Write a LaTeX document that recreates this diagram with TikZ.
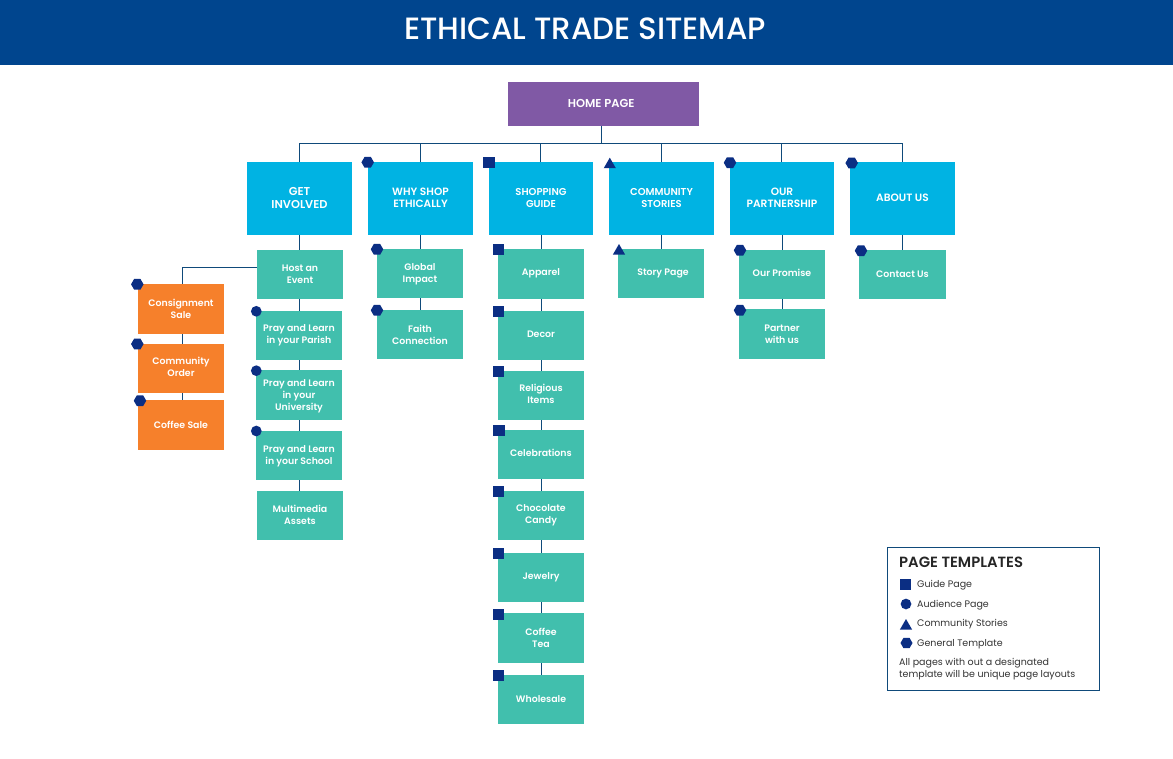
\documentclass[tikz,border=0pt]{standalone}
\usepackage{fontspec}
\setmainfont{Poppins}[BoldFont={Poppins SemiBold}]
\newfontfamily\titlefont{Poppins Medium}
\usetikzlibrary{shapes.geometric}
\definecolor{navy}{HTML}{00458E}
\definecolor{mark}{HTML}{0B2E83}
\definecolor{linec}{HTML}{0F4A7A}
\definecolor{sky}{HTML}{00B3E3}
\definecolor{teal1}{HTML}{41BFAD}
\definecolor{org}{HTML}{F6802B}
\definecolor{purp}{HTML}{8059A5}
\tikzset{
 boxb/.style={rectangle,inner sep=0pt},
 home/.style={boxb,fill=purp},
 top/.style={boxb,fill=sky},
 sub/.style={boxb,fill=teal1},
 side/.style={boxb,fill=org},
 lab/.style={inner sep=0pt,align=center,text=white,font=\fontsize{9.4}{11.8}\selectfont\bfseries},
 conn/.style={draw=linec,line width=0.9pt},
 gsq/.style={rectangle,fill=mark,minimum width=11.5pt,minimum height=11pt,inner sep=0pt},
 gci/.style={circle,fill=mark,minimum size=10.7pt,inner sep=0pt},
 gtr/.style={regular polygon,regular polygon sides=3,fill=mark,minimum size=14pt,inner sep=0pt},
 ghx/.style={regular polygon,regular polygon sides=6,fill=mark,minimum size=12.5pt,inner sep=0pt},
 lgt/.style={anchor=west,inner sep=0pt,font=\fontsize{9.5}{11}\selectfont,text=black!80},
}
\begin{document}
\begin{tikzpicture}[x=1pt,y=-1pt]
\useasboundingbox (0,0) rectangle (1173,758);
\fill[white] (0,0) rectangle (1173,758);
\fill[navy] (0,0) rectangle (1173,65);
\node[text=white,inner sep=0pt,font=\fontsize{30.8}{36}\selectfont\titlefont] (title) at (585,28.5) {ETHICAL TRADE SITEMAP};
% top
\node[home,minimum width=191pt,minimum height=44pt,label={[lab,font=\fontsize{11.5}{13}\selectfont\bfseries,xshift=-2.3pt,yshift=0.5pt]center:HOME PAGE}] (hp) at (603.5,104) {};
\foreach \n/\x/\w/\fs/\ls/\t in {a/299.5/105/11.4/13/{GET\\INVOLVED},b/420.5/105/10.6/12.4/{WHY SHOP\\ETHICALLY},c/541/104/10/12.4/{SHOPPING\\GUIDE},d/661.5/105/10/12.4/{COMMUNITY\\STORIES},e/782/104/10.6/12.4/{OUR\\PARTNERSHIP},f/902.5/105/10.6/12.4/{ABOUT US}}
  {\node[top,minimum width=\w pt,minimum height=73pt,label={[lab,font=\fontsize{\fs}{\ls}\selectfont\bfseries,yshift=0.5pt]center:\t}] (\n) at (\x,198.5) {};}
% subs
\foreach \n/\x/\y/\w/\h/\dx/\dy/\t in {
 a1/300/274.5/86/49/0/-0.5/{Host an\\Event},
 a2/299/335.5/86/49/0/0/{Pray and Learn\\in your Parish},
 a3/299/395/86/50/0/1.5/{Pray and Learn\\in your\\University},
 a4/299/455.5/86/49/0/1/{Pray and Learn\\in your School},
 a5/300/515.5/86/49/0/-0.5/{Multimedia\\Assets},
 b1/420/273.5/86/49/0/0.5/{Global\\Impact},
 b2/420/334.5/86/49/0/0/{Faith\\Connection},
 c1/541/274/86/50/0/-1/{Apparel},
 c2/541/335.5/86/49/0/-1/{Decor},
 c3/541/395.5/86/49/0/-2/{Religious\\Items},
 c4/541/454.5/86/49/0/-1.5/{Celebrations},
 c5/541/515.5/86/49/0/0/{Chocolate\\Candy},
 c6/541/577.5/86/49/0/0/{Jewelry},
 c7/541/638/86/50/0/0/{Coffee\\Tea},
 c8/541/699.5/86/49/0/-0.5/{Wholesale},
 d1/661/273.5/86/49/2/0/{Story Page},
 e1/782/274.5/86/49/0/-1.5/{Our Promise},
 e2/782/334/86/50/0/0/{Partner\\with us},
 f1/902.5/274.5/87/49/0/-0.5/{Contact Us}}
  {\node[sub,minimum width=\w pt,minimum height=\h pt,label={[lab,xshift=\dx pt,yshift={-1pt*(\dy)}]center:\t}] (\n) at (\x,\y) {};}
\foreach \n/\y/\h/\dy/\t in {s1/309/50/-0.5/{Consignment\\Sale},s2/368.5/49/-1.5/{Community\\Order},s3/425/50/0/{Coffee Sale}}
  {\node[side,minimum width=86pt,minimum height=\h pt,label={[lab,yshift={-1pt*(\dy)}]center:\t}] (\n) at (181,\y) {};}
% connectors
\coordinate (hpo) at (601.3,126);
\coordinate (busm) at (601.3,143);
\coordinate (busl) at (299.3,143);
\coordinate (busr) at (902.3,143);
\draw[conn] (busl) -- (busr);
\draw[conn] (hpo) -- (busm);
\foreach \n/\s in {a/-0.2,b/-0.2,c/-0.7,d/-0.2,e/-0.7,f/-0.2} {\draw[conn] ([xshift=\s pt]\n.north) -- ([xshift=\s pt]\n.north |- busl);}
\draw[conn] (a.south) -- (a.south |- a1.north);
\draw[conn] (a1.south -| a2.north) -- (a2.north);
\draw[conn] (a2.south) -- (a3.north);
\draw[conn] (a3.south) -- (a4.north);
\draw[conn] (a4.south) -- (a4.south |- a5.north);
\draw[conn] (b.south) -- (b1.north -| b.south);
\draw[conn] (b1.south) -- (b2.north);
\begin{scope}[xshift=-0.7pt]
\draw[conn] (c.south) -- (c1.north);
\foreach \p/\q in {c1/c2,c2/c3,c3/c4,c4/c5,c5/c6,c6/c7,c7/c8} {\draw[conn] (\p.south) -- (\q.north);}
\end{scope}
\draw[conn] (d.south) -- (d.south |- d1.north);
\begin{scope}[xshift=-0.7pt]
\draw[conn] (e.south) -- (e1.north);
\draw[conn] (e1.south) -- (e2.north);
\end{scope}
\draw[conn] (f.south) -- (f1.north);
\coordinate (elb) at (182.3,267);
\draw[conn] (a1.west |- elb) -- (elb) -- (elb |- s1.north);
\draw[conn] ([xshift=1.3pt]s1.south) -- ([xshift=1.3pt]s2.north);
\draw[conn] ([xshift=1.3pt]s2.south) -- ([xshift=1.3pt]s3.north);
% glyphs
\foreach \x/\y in {367.7/162.3,730/162.7,851.7/163,377/249.3,377/310.3,861/250.7,740/250.3,740/310.3,137.3/284.3,137.3/344,140/400.7}
  {\node[ghx] at (\x,\y) {};}
\foreach \x/\y in {256.3/311.3,256.3/370.7,256.3/431}
  {\node[gci] at (\x,\y) {};}
\foreach \x/\y in {489/162.7,498.5/249.5,498.5/311.5,498.5/371.5,499/430.5,498.5/491.5,498.5/553,498.5/614,498.5/675.5}
  {\node[gsq] at (\x,\y) {};}
\node[gtr] at (609.8,164.7) {};
\node[gtr] at (619,251) {};
% legend
\node[draw=linec,line width=0.9pt,fill=white,minimum width=212pt,minimum height=143pt,inner sep=0pt] (lg) at (993.5,618.5) {};
\node[anchor=west,inner sep=0pt,font=\fontsize{14.8}{16}\selectfont\bfseries,text=black!85] (lt) at (899,562.5) {PAGE TEMPLATES};
\node[gsq] (g1) at (905.5,584.5) {};
\node[gci] (g2) at (906,604) {};
\node[gtr,minimum size=14pt] (g3) at (906,626) {};
\node[ghx,minimum size=12pt] (g4) at (906.5,643) {};
\node[lgt] (l1) at (917,585) {Guide Page};
\node[lgt] (l2) at (917,605) {Audience Page};
\node[lgt] (l3) at (917,624) {Community Stories};
\node[lgt] (l4) at (917,644) {General Template};
\node[anchor=north west,inner sep=0pt,align=left,font=\fontsize{9.5}{11.6}\selectfont,text=black!80] (ln) at (899,658) {All pages with out a designated\\template will be unique page layouts};
\end{tikzpicture}
\end{document}
